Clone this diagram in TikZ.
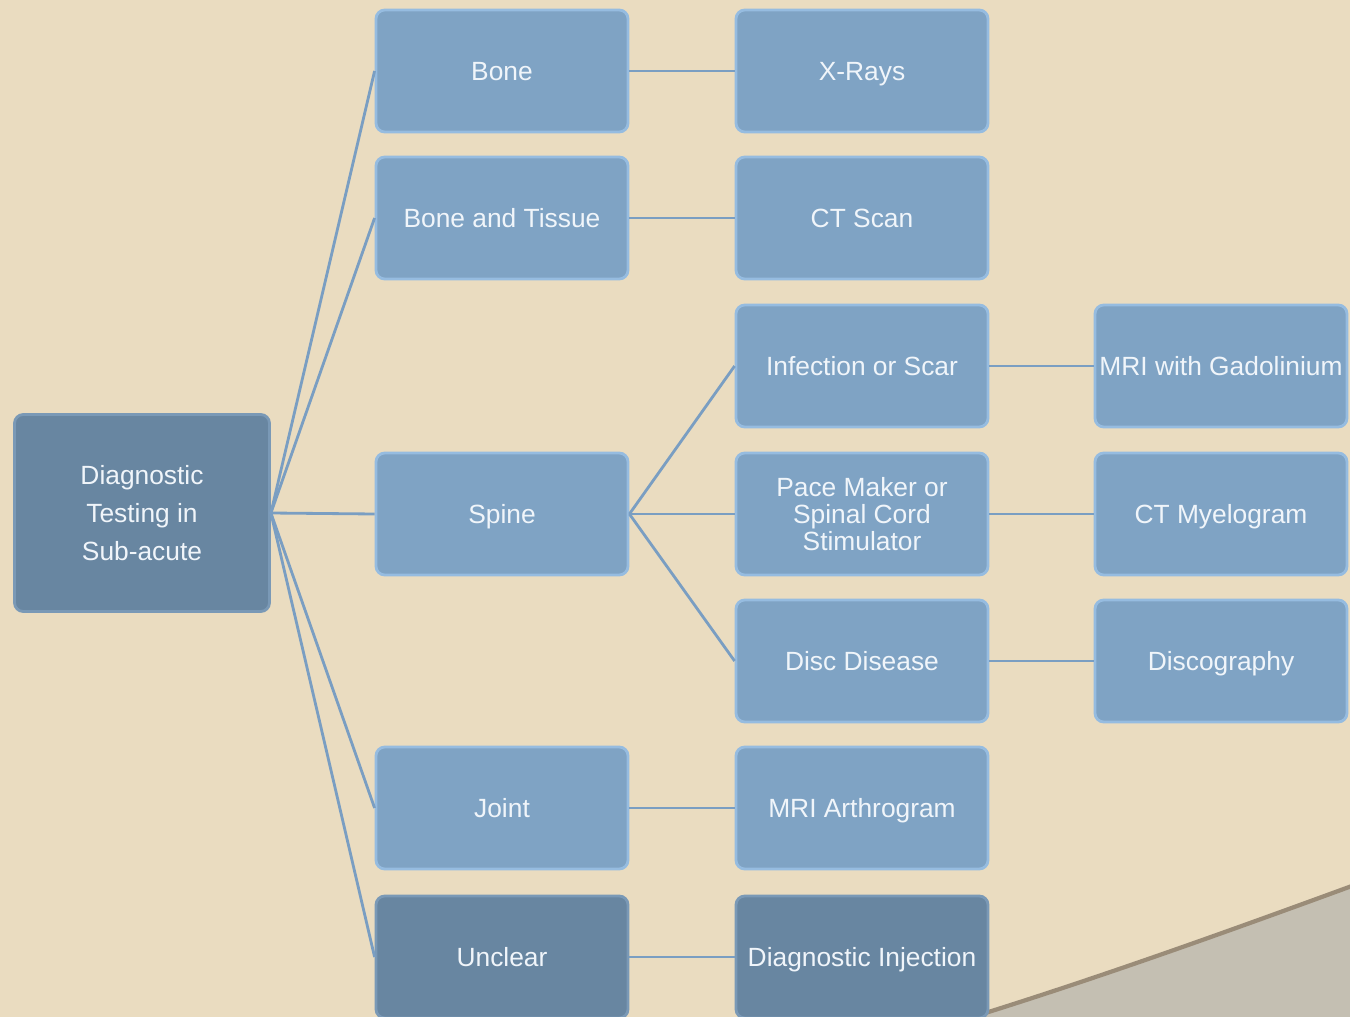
\documentclass[tikz,border=0pt]{standalone}
\usepackage{fontspec}
\setmainfont{Liberation Sans}
\definecolor{bgc}{RGB}{234,220,192}
\definecolor{facel}{RGB}{127,163,196}
\definecolor{edgel}{RGB}{150,188,224}
\definecolor{faced}{RGB}{104,134,161}
\definecolor{edged}{RGB}{122,153,182}
\definecolor{linec}{RGB}{122,158,194}
\definecolor{txtc}{RGB}{240,245,250}
\definecolor{curvec}{RGB}{154,140,120}
\definecolor{greyfill}{RGB}{196,191,178}
\begin{document}
\begin{tikzpicture}[x=0.02cm,y=-0.02cm,
  box/.style={rectangle,rounded corners=5pt,minimum width=252*0.02cm,minimum height=122*0.02cm,
    inner sep=0pt,align=center,text=txtc,font=\fontsize{15}{15.6}\selectfont,line width=1.6pt},
  one/.style={text height=10.8pt,text depth=0pt},
  lbox/.style={box,fill=facel,draw=edgel},
  dbox/.style={box,fill=faced,draw=edged},
  conn/.style={draw=linec,line width=1.6pt}]
\fill[bgc] (0,0) rectangle (1350,1017);
\useasboundingbox (0,0) rectangle (1350,1017);
% decorative curve
\fill[greyfill] (930,1030) .. controls (1070,988) and (1210,938) .. (1360,883) -- (1360,1030) -- cycle;
\draw[curvec,line width=2.4pt] (930,1030) .. controls (1070,988) and (1210,938) .. (1360,883);
% root
\node[dbox,minimum width=255*0.02cm,minimum height=197*0.02cm,font=\fontsize{15}{21.5}\selectfont] (root) at (142,513) {Diagnostic\\Testing in\\Sub-acute};
% column 1
\node[lbox,one] (bone) at (502,71) {Bone};
\node[lbox,one] (tissue) at (502,218) {Bone and Tissue};
\node[lbox,one] (spine) at (502,514) {Spine};
\node[lbox,one] (joint) at (502,808) {Joint};
\node[dbox,one] (unclear) at (502,957) {Unclear};
% column 2
\node[lbox,one] (xray) at (862,71) {X-Rays};
\node[lbox,one] (ct) at (862,218) {CT Scan};
\node[lbox,one] (infect) at (862,366) {Infection or Scar};
\node[lbox] (pace) at (862,514) {Pace Maker or\\Spinal Cord\\Stimulator};
\node[lbox,one] (disc) at (862,661) {Disc Disease};
\node[lbox,one] (arthro) at (862,808) {MRI Arthrogram};
\node[dbox,one] (inject) at (862,957) {Diagnostic Injection};
% column 3
\node[lbox,one] (gad) at (1221,366) {MRI with Gadolinium};
\node[lbox,one] (myelo) at (1221,514) {CT Myelogram};
\node[lbox,one] (discog) at (1221,661) {Discography};
% connectors
\foreach \t in {bone,tissue,spine,joint,unclear}
  \draw[conn] (root.east) -- (\t.west);
\foreach \t in {infect,pace,disc}
  \draw[conn] (spine.east) -- (\t.west);
\draw[conn] (bone.east) -- (xray.west);
\draw[conn] (tissue.east) -- (ct.west);
\draw[conn] (joint.east) -- (arthro.west);
\draw[conn] (unclear.east) -- (inject.west);
\draw[conn] (infect.east) -- (gad.west);
\draw[conn] (pace.east) -- (myelo.west);
\draw[conn] (disc.east) -- (discog.west);
\end{tikzpicture}
\end{document}
